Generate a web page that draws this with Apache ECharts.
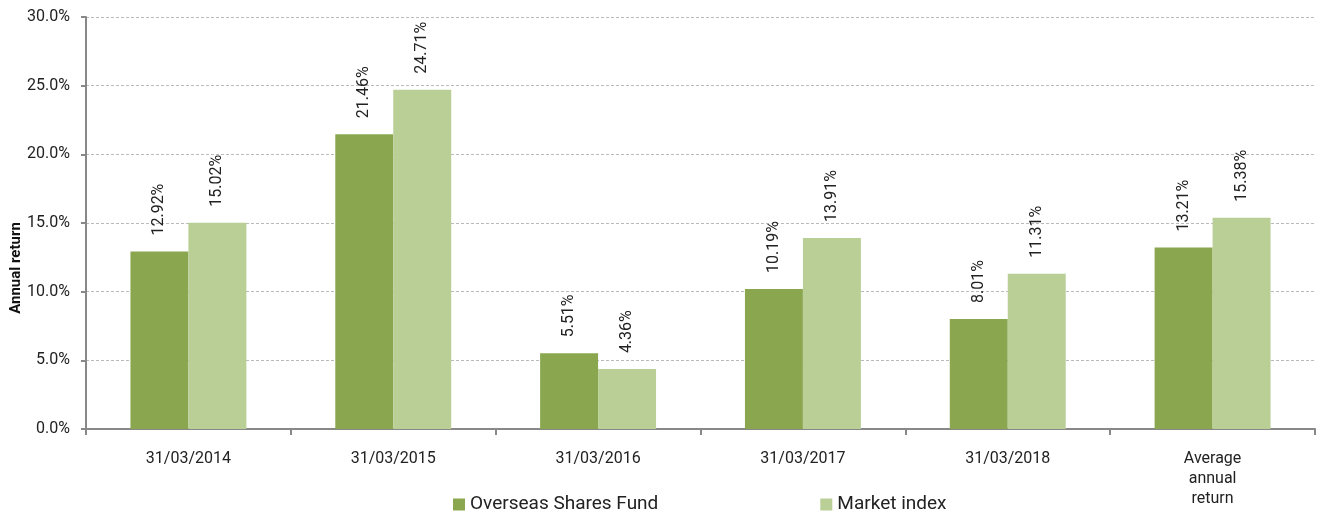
<!DOCTYPE html>
<html><head><meta charset="utf-8">
<script src="https://cdn.jsdelivr.net/npm/echarts@6/dist/echarts.min.js"></script>
<style>html,body{margin:0;padding:0;background:#fff}#c{width:1317px;height:514px}</style>
</head><body><div id="c"></div>
<script>
const categories = ['31/03/2014','31/03/2015','31/03/2016','31/03/2017','31/03/2018','Average\nannual\nreturn'];
const fundValues = [12.92, 21.46, 5.51, 10.19, 8.01, 13.21];
const indexValues = [15.02, 24.71, 4.36, 13.91, 11.31, 15.38];
const seriesNames = ['Overseas Shares Fund', 'Market index'];
const yTicks = {min: 0, max: 30, interval: 5};

const FONT = 'Roboto';
const labelCfg = {
  show: true, position: 'top', rotate: 90, align: 'left', verticalAlign: 'middle',
  distance: 16, fontFamily: FONT, fontSize: 16, color: '#222',
  formatter: p => p.value.toFixed(2) + '%'
};
const chart = echarts.init(document.getElementById('c'), null, {renderer: 'canvas'});
chart.setOption({
  animation: false,
  textStyle: {fontFamily: FONT},
  grid: {left: 86, right: 2, top: 17, bottom: 85, containLabel: false, outerBoundsMode: 'none'},
  legend: {
    left: 448, top: 490, itemWidth: 12, itemHeight: 12, itemGap: 162,
    icon: 'rect', textStyle: {fontFamily: FONT, fontSize: 19, color: '#222'},
    data: seriesNames
  },
  xAxis: {
    type: 'category', data: categories,
    axisLine: {lineStyle: {color: '#888', width: 2}},
    axisTick: {show: true, alignWithLabel: false, length: 6, lineStyle: {color: '#888', width: 2}},
    axisLabel: {fontFamily: FONT, fontSize: 16, color: '#222', margin: 20, lineHeight: 20}
  },
  yAxis: {
    type: 'value', min: yTicks.min, max: yTicks.max, interval: yTicks.interval,
    name: 'Annual return', nameLocation: 'middle', nameGap: 62, nameMoveOverlap: false,
    nameTextStyle: {fontFamily: FONT, fontSize: 15, fontWeight: 'bold', color: '#111', padding: [0, 90, 0, 0]},
    axisLine: {show: true, lineStyle: {color: '#888', width: 2}},
    axisTick: {show: true, length: 5, lineStyle: {color: '#888', width: 2}},
    splitLine: {lineStyle: {color: '#bbb', type: [3, 2], width: 1}},
    axisLabel: {fontFamily: FONT, fontSize: 16, color: '#222', margin: 16,
      formatter: v => v.toFixed(1) + '%'}
  },
  series: [
    {name: seriesNames[0], type: 'bar', data: fundValues, barWidth: '28.3%', barGap: '0%',
     itemStyle: {color: '#8aa74f'}, label: labelCfg},
    {name: seriesNames[1], type: 'bar', data: indexValues, barWidth: '28.3%', barGap: '0%',
     itemStyle: {color: '#b9cf96'}, label: labelCfg}
  ]
});
</script></body></html>
